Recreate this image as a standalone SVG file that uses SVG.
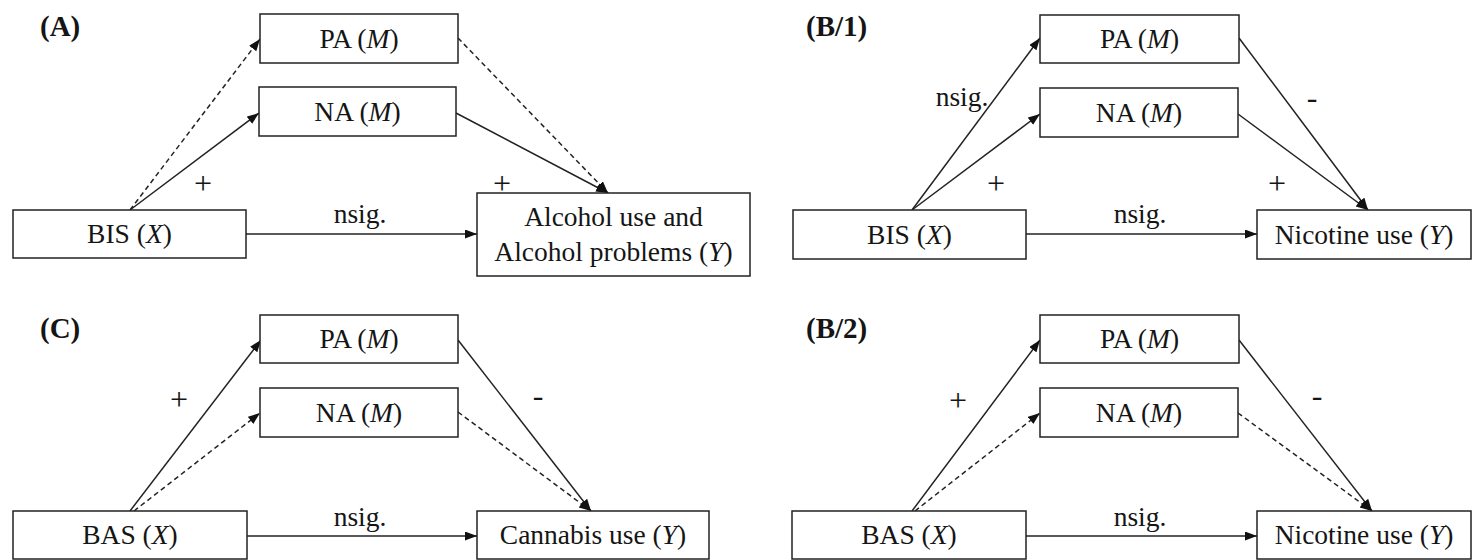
<svg xmlns="http://www.w3.org/2000/svg" width="1474" height="560" viewBox="0 0 1474 560">
<style>
.box{fill:#fff;stroke:#222;stroke-width:1.5}
.t{font-family:"Liberation Serif","Times New Roman",serif;font-size:27.5px;fill:#151515;text-anchor:middle}
.sg{font-family:"Liberation Serif","Times New Roman",serif;font-size:32px;fill:#151515;text-anchor:middle}
.lab{font-family:"Liberation Serif","Times New Roman",serif;font-size:29px;font-weight:bold;fill:#151515}
.s{stroke:#222;stroke-width:1.5;fill:none;marker-end:url(#ah)}
.d{stroke:#222;stroke-width:1.5;fill:none;stroke-dasharray:5 3.5;marker-end:url(#ah)}
</style>
<defs>
<marker id="ah" markerUnits="userSpaceOnUse" markerWidth="13" markerHeight="10" refX="12" refY="4.5" orient="auto">
<path d="M0,0 L12,4.5 L0,9 z" fill="#111"/>
</marker>
</defs>
<rect width="1474" height="560" fill="#fff"/>

<g id="labels">
<text class="lab" x="40" y="36">(A)</text>
<text class="lab" x="806" y="36">(B/1)</text>
<text class="lab" x="40" y="338">(C)</text>
<text class="lab" x="806" y="338">(B/2)</text>
</g>

<g id="connectors">
<!-- Panel A -->
<path class="d" d="M130,210 L260,39"/>
<path class="s" d="M130,210 L259,113"/>
<path class="d" d="M458,38 L608,193"/>
<path class="s" d="M456,113 L608,193"/>
<path class="s" d="M246,234 L477,234"/>
<!-- Panel B/1 -->
<path class="s" d="M912,210 L1040,38"/>
<path class="s" d="M912,210 L1040,114"/>
<path class="s" d="M1239,38 L1368,210"/>
<path class="s" d="M1238,114 L1368,210"/>
<path class="s" d="M1026,234 L1257,234"/>
<!-- Panel C -->
<path class="s" d="M130,511 L261,340"/>
<path class="d" d="M134,511 L260,413"/>
<path class="s" d="M458,340 L591,511"/>
<path class="d" d="M458,412 L591,511"/>
<path class="s" d="M247,536 L477,536"/>
<!-- Panel B/2 -->
<path class="s" d="M912,511 L1040,340"/>
<path class="d" d="M915,511 L1040,413"/>
<path class="s" d="M1239,340 L1372,511"/>
<path class="d" d="M1238,413 L1372,511"/>
<path class="s" d="M1026,536 L1257,536"/>
</g>

<g id="edge-labels">
<text class="sg" x="203" y="194">+</text>
<text class="t" x="360" y="223">nsig.</text>
<text class="sg" x="502" y="194">+</text>
<text class="t" x="962" y="106">nsig.</text>
<text class="sg" x="996" y="194">+</text>
<text class="sg" x="1312" y="108">-</text>
<text class="sg" x="1277" y="194">+</text>
<text class="t" x="1140" y="223">nsig.</text>
<text class="sg" x="179" y="410">+</text>
<text class="sg" x="538" y="406">-</text>
<text class="t" x="360" y="526">nsig.</text>
<text class="sg" x="958" y="411">+</text>
<text class="sg" x="1317" y="406">-</text>
<text class="t" x="1140" y="526">nsig.</text>
</g>

<!-- Panel A nodes -->
<g id="A-PA"><rect class="box" x="260" y="14" width="198" height="49"/><text class="t" x="359" y="48">PA (<tspan font-style="italic">M</tspan>)</text></g>
<g id="A-NA"><rect class="box" x="259" y="87" width="197" height="49"/><text class="t" x="357.5" y="121">NA (<tspan font-style="italic">M</tspan>)</text></g>
<g id="A-BIS"><rect class="box" x="13" y="210" width="233" height="48"/><text class="t" x="129.5" y="243">BIS (<tspan font-style="italic">X</tspan>)</text></g>
<g id="A-Y"><rect class="box" x="477" y="193" width="273" height="83"/><text class="t" x="613.5" y="226">Alcohol use and</text><text class="t" x="613.5" y="261">Alcohol problems (<tspan font-style="italic">Y</tspan>)</text></g>

<!-- Panel B/1 nodes -->
<g id="B1-PA"><rect class="box" x="1040" y="15" width="199" height="48"/><text class="t" x="1139.5" y="48">PA (<tspan font-style="italic">M</tspan>)</text></g>
<g id="B1-NA"><rect class="box" x="1040" y="88" width="198" height="49"/><text class="t" x="1139" y="122">NA (<tspan font-style="italic">M</tspan>)</text></g>
<g id="B1-BIS"><rect class="box" x="793" y="210" width="233" height="49"/><text class="t" x="909.5" y="244">BIS (<tspan font-style="italic">X</tspan>)</text></g>
<g id="B1-Y"><rect class="box" x="1257" y="210" width="214" height="49"/><text class="t" x="1364" y="244">Nicotine use (<tspan font-style="italic">Y</tspan>)</text></g>

<!-- Panel C nodes -->
<g id="C-PA"><rect class="box" x="260" y="315" width="198" height="48"/><text class="t" x="359" y="348">PA (<tspan font-style="italic">M</tspan>)</text></g>
<g id="C-NA"><rect class="box" x="260" y="388" width="198" height="49"/><text class="t" x="359" y="422">NA (<tspan font-style="italic">M</tspan>)</text></g>
<g id="C-BAS"><rect class="box" x="13" y="511" width="234" height="48"/><text class="t" x="130" y="544">BAS (<tspan font-style="italic">X</tspan>)</text></g>
<g id="C-Y"><rect class="box" x="477" y="511" width="232" height="48"/><text class="t" x="593" y="544">Cannabis use (<tspan font-style="italic">Y</tspan>)</text></g>

<!-- Panel B/2 nodes -->
<g id="B2-PA"><rect class="box" x="1040" y="315" width="199" height="48"/><text class="t" x="1139.5" y="348">PA (<tspan font-style="italic">M</tspan>)</text></g>
<g id="B2-NA"><rect class="box" x="1040" y="388" width="198" height="49"/><text class="t" x="1139" y="422">NA (<tspan font-style="italic">M</tspan>)</text></g>
<g id="B2-BAS"><rect class="box" x="792" y="511" width="234" height="48"/><text class="t" x="909" y="544">BAS (<tspan font-style="italic">X</tspan>)</text></g>
<g id="B2-Y"><rect class="box" x="1257" y="511" width="214" height="48"/><text class="t" x="1364" y="544">Nicotine use (<tspan font-style="italic">Y</tspan>)</text></g>
</svg>
